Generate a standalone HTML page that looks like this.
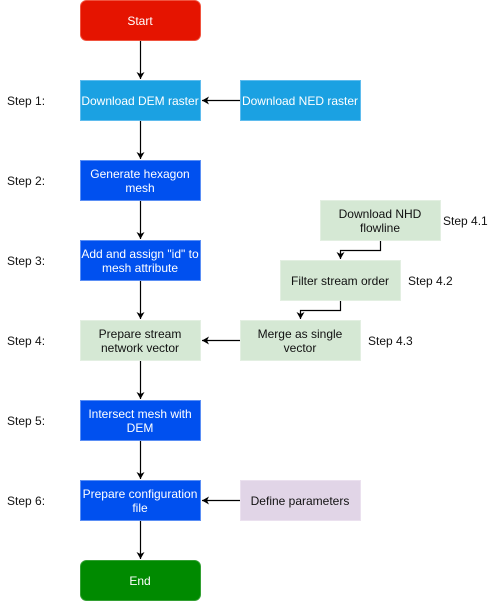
<!DOCTYPE html>
<html><head><meta charset="utf-8"><style>
html,body{margin:0;padding:0;background:#fff;}
svg{display:block;}
text{font-family:"Liberation Sans",Arial,sans-serif;font-size:12px;}
</style></head><body>
<svg width="496" height="601" viewBox="0 0 496 601" xmlns="http://www.w3.org/2000/svg">
<defs>
<marker id="a" markerWidth="8" markerHeight="8" refX="7" refY="4" orient="auto" markerUnits="userSpaceOnUse">
<path d="M0,0 L7,4 L0,8 L2,4 Z" fill="#000"/>
</marker>
</defs>
<!-- boxes -->
<rect x="80.5" y="0.5" width="120" height="40" rx="6" fill="#e51400" stroke="#f0533f"/>
<rect x="80.5" y="80.5" width="120" height="40" fill="#1ba1e2" stroke="#5fbcee"/>
<rect x="240.5" y="80.5" width="120" height="40" fill="#1ba1e2" stroke="#5fbcee"/>
<rect x="80.5" y="160.5" width="120" height="40" fill="#0050ef" stroke="#5b8ff5"/>
<rect x="80.5" y="240.5" width="120" height="40" fill="#0050ef" stroke="#5b8ff5"/>
<rect x="320.5" y="200.5" width="120" height="40" fill="#d5e8d4" stroke="#e3efe2"/>
<rect x="280.5" y="260.5" width="120" height="40" fill="#d5e8d4" stroke="#e3efe2"/>
<rect x="80.5" y="320.5" width="120" height="40" fill="#d5e8d4" stroke="#e3efe2"/>
<rect x="240.5" y="320.5" width="120" height="40" fill="#d5e8d4" stroke="#e3efe2"/>
<rect x="80.5" y="400.5" width="120" height="40" fill="#0050ef" stroke="#5b8ff5"/>
<rect x="80.5" y="480.5" width="120" height="40" fill="#0050ef" stroke="#5b8ff5"/>
<rect x="240.5" y="480.5" width="120" height="40" fill="#e1d5e7" stroke="#ebe1ef"/>
<rect x="80.5" y="560.5" width="120" height="40" rx="6" fill="#008a00" stroke="#33a033"/>
<!-- connectors -->
<g stroke="#000" stroke-width="1.2" fill="none">
<line x1="140.5" y1="41" x2="140.5" y2="79" marker-end="url(#a)"/>
<line x1="140.5" y1="121" x2="140.5" y2="159" marker-end="url(#a)"/>
<line x1="140.5" y1="201" x2="140.5" y2="239" marker-end="url(#a)"/>
<line x1="140.5" y1="281" x2="140.5" y2="319" marker-end="url(#a)"/>
<line x1="140.5" y1="361" x2="140.5" y2="399" marker-end="url(#a)"/>
<line x1="140.5" y1="441" x2="140.5" y2="479" marker-end="url(#a)"/>
<line x1="140.5" y1="521" x2="140.5" y2="559" marker-end="url(#a)"/>
<line x1="240" y1="100.5" x2="202" y2="100.5" marker-end="url(#a)"/>
<line x1="240" y1="340.5" x2="202" y2="340.5" marker-end="url(#a)"/>
<line x1="240" y1="500.5" x2="202" y2="500.5" marker-end="url(#a)"/>
<polyline points="380.5,241 380.5,250.5 340.5,250.5 340.5,259" marker-end="url(#a)"/>
<polyline points="340.5,301 340.5,310.5 300.5,310.5 300.5,319" marker-end="url(#a)"/>
</g>
<!-- box text -->
<g text-anchor="middle" fill="#fff">
<text x="140" y="25">Start</text>
<text x="140" y="105">Download DEM raster</text>
<text x="300" y="105">Download NED raster</text>
<text x="140" y="178">Generate hexagon</text>
<text x="140" y="192">mesh</text>
<text x="140" y="258">Add and assign "id" to</text>
<text x="140" y="272">mesh attribute</text>
<text x="140" y="418">Intersect mesh with</text>
<text x="140" y="432">DEM</text>
<text x="140" y="498">Prepare configuration</text>
<text x="140" y="512">file</text>
<text x="140" y="585">End</text>
</g>
<g text-anchor="middle" fill="#111">
<text x="380" y="218">Download NHD</text>
<text x="380" y="232">flowline</text>
<text x="340" y="285">Filter stream order</text>
<text x="140" y="338">Prepare stream</text>
<text x="140" y="352">network vector</text>
<text x="300" y="338">Merge as single</text>
<text x="300" y="352">vector</text>
<text x="300" y="505">Define parameters</text>
</g>
<g fill="#111">
<text x="7" y="105">Step 1:</text>
<text x="7" y="185">Step 2:</text>
<text x="7" y="265">Step 3:</text>
<text x="7" y="345">Step 4:</text>
<text x="7" y="425">Step 5:</text>
<text x="7" y="505">Step 6:</text>
<text x="443" y="225">Step 4.1</text>
<text x="408" y="285">Step 4.2</text>
<text x="368" y="345">Step 4.3</text>
</g>
</svg>
</body></html>
